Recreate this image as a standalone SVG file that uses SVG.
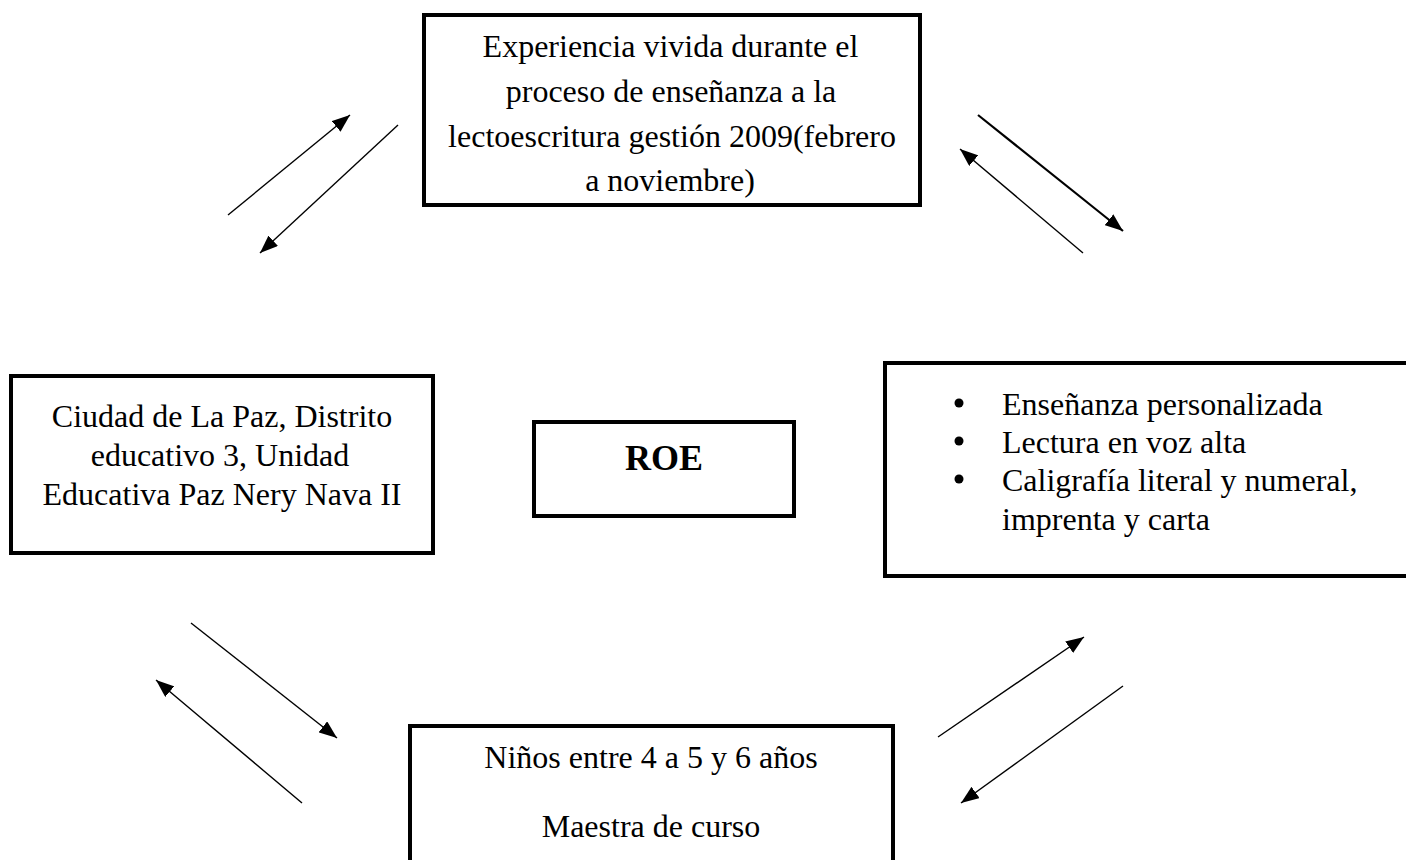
<svg xmlns="http://www.w3.org/2000/svg" width="1406" height="860" viewBox="0 0 1406 860">
<style>
.box{fill:#fff;stroke:#000;stroke-width:4}
.t{font-family:"Liberation Serif","Times New Roman",serif;font-size:32px;fill:#000}
.c{text-anchor:middle}
.b{font-weight:bold;font-size:36px}
.ln{stroke:#000;stroke-width:1.4;fill:none}
.thick{stroke-width:2.2}
</style>
<defs>
<marker id="ah" markerUnits="userSpaceOnUse" markerWidth="20" markerHeight="14" refX="18" refY="7" orient="auto">
<path d="M0,0 L18,7 L0,14 Z" fill="#000"/>
</marker>
</defs>
<g id="connectors">
<line class="ln" x1="228" y1="215" x2="350" y2="115" marker-end="url(#ah)"/>
<line class="ln" x1="398" y1="125" x2="260" y2="253" marker-end="url(#ah)"/>
<line class="ln thick" x1="978" y1="115" x2="1123" y2="231" marker-end="url(#ah)"/>
<line class="ln" x1="1083" y1="253" x2="960" y2="149" marker-end="url(#ah)"/>
<line class="ln" x1="191" y1="623" x2="337" y2="738" marker-end="url(#ah)"/>
<line class="ln" x1="302" y1="803" x2="156" y2="680" marker-end="url(#ah)"/>
<line class="ln" x1="938" y1="737" x2="1084" y2="637" marker-end="url(#ah)"/>
<line class="ln" x1="1123" y1="686" x2="961" y2="803" marker-end="url(#ah)"/>
</g>
<g id="node-top">
<rect class="box" x="424" y="15" width="496" height="190"/>
<text class="t c" x="670.5" y="57">Experiencia vivida durante el</text>
<text class="t c" x="671" y="102">proceso de enseñanza a la</text>
<text class="t c" x="672" y="147">lectoescritura gestión 2009(febrero</text>
<text class="t c" x="670" y="191">a noviembre)</text>
</g>
<g id="node-left">
<rect class="box" x="11" y="376" width="422" height="177"/>
<text class="t c" x="222" y="427">Ciudad de La Paz, Distrito</text>
<text class="t c" x="220" y="466">educativo 3, Unidad</text>
<text class="t c" x="222" y="505">Educativa Paz Nery Nava II</text>
</g>
<g id="node-roe">
<rect class="box" x="534" y="422" width="260" height="94"/>
<text class="t c b" x="664" y="470">ROE</text>
</g>
<g id="node-right">
<rect class="box" x="885" y="363" width="600" height="213"/>
<circle cx="959" cy="403" r="4.5"/>
<circle cx="959" cy="441" r="4.5"/>
<circle cx="959" cy="479" r="4.5"/>
<text class="t" x="1002" y="415">Enseñanza personalizada</text>
<text class="t" x="1002" y="453">Lectura en voz alta</text>
<text class="t" x="1002" y="491">Caligrafía literal y numeral,</text>
<text class="t" x="1002" y="530">imprenta y carta</text>
</g>
<g id="node-bottom">
<rect class="box" x="410" y="726" width="483" height="200"/>
<text class="t c" x="651" y="768">Niños entre 4 a 5 y 6 años</text>
<text class="t c" x="651" y="837">Maestra de curso</text>
</g>
</svg>
